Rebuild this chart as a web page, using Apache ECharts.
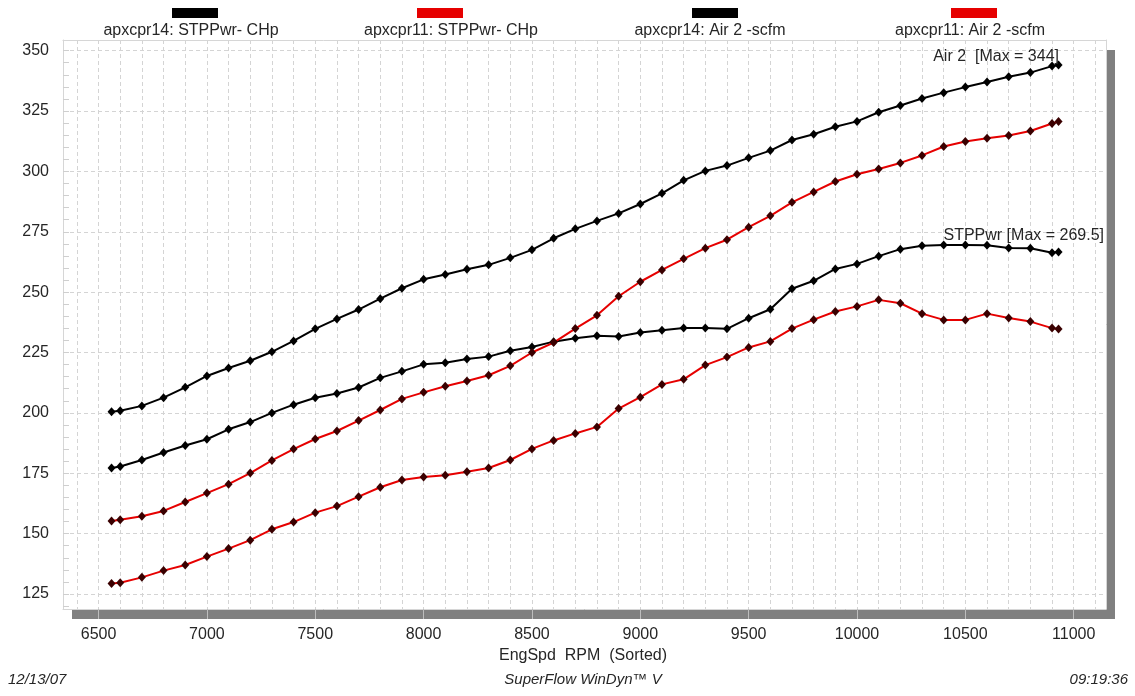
<!DOCTYPE html>
<html>
<head>
<meta charset="utf-8">
<script src="https://cdn.jsdelivr.net/npm/echarts@6/dist/echarts.min.js"></script>
<style>
html,body{margin:0;padding:0;background:#fff;}
#chart{width:1135px;height:696px;}
</style>
</head>
<body>
<div id="chart"></div>
<script>
// ---- data ----
const rpm = [6560, 6600, 6700, 6800, 6900, 7000, 7100, 7200, 7300, 7400, 7500, 7600, 7700, 7800, 7900, 8000, 8100, 8200, 8300, 8400, 8500, 8600, 8700, 8800, 8900, 9000, 9100, 9200, 9300, 9400, 9500, 9600, 9700, 9800, 9900, 10000, 10100, 10200, 10300, 10400, 10500, 10600, 10700, 10800, 10900, 10930];
const stpPwr14 = [177.2, 177.8, 180.5, 183.6, 186.5, 189.1, 193.2, 196.2, 200.0, 203.4, 206.3, 208.0, 210.5, 214.5, 217.2, 220.1, 220.8, 222.3, 223.3, 225.7, 227.3, 229.5, 230.9, 231.9, 231.6, 233.3, 234.2, 235.2, 235.2, 234.8, 239.2, 242.9, 251.4, 254.7, 259.6, 261.7, 264.9, 267.8, 269.2, 269.5, 269.5, 269.4, 268.3, 268.2, 266.3, 266.6];
const stpPwr11 = [129.4, 129.7, 131.9, 134.7, 137.0, 140.5, 143.8, 147.3, 151.8, 154.8, 158.7, 161.4, 165.3, 169.2, 172.2, 173.5, 174.2, 175.6, 177.2, 180.5, 185.1, 188.6, 191.5, 194.2, 201.8, 206.5, 211.8, 213.9, 219.8, 223.1, 227.1, 229.6, 234.9, 238.6, 242.0, 244.1, 246.8, 245.4, 241.1, 238.5, 238.5, 241.1, 239.3, 237.8, 235.1, 234.7];
const air14 = [200.5, 200.9, 202.9, 206.3, 210.6, 215.3, 218.6, 221.6, 225.3, 229.8, 234.8, 238.9, 242.8, 247.3, 251.6, 255.3, 257.3, 259.5, 261.3, 264.2, 267.5, 272.3, 276.2, 279.5, 282.6, 286.5, 290.9, 296.3, 300.2, 302.4, 305.6, 308.6, 313.0, 315.4, 318.5, 320.7, 324.5, 327.3, 330.2, 332.6, 334.9, 337.0, 339.2, 340.9, 343.6, 344.0];
const air11 = [155.2, 155.8, 157.2, 159.4, 163.1, 166.8, 170.5, 175.1, 180.3, 185.0, 189.2, 192.5, 196.8, 201.2, 205.8, 208.5, 211.0, 213.2, 215.6, 219.5, 225.0, 229.1, 234.9, 240.4, 248.3, 254.3, 259.2, 263.8, 268.2, 271.7, 276.9, 281.6, 287.2, 291.5, 295.8, 298.8, 301.0, 303.5, 306.6, 310.3, 312.4, 313.7, 314.9, 316.7, 319.8, 320.7];

const seriesNames = ['apxcpr14: STPPwr- CHp', 'apxcpr11: STPPwr- CHp', 'apxcpr14: Air 2 -scfm', 'apxcpr11: Air 2 -scfm'];
const xTickLabels = [6500, 7000, 7500, 8000, 8500, 9000, 9500, 10000, 10500, 11000];
const xGridValues = [6400, 6500, 6600, 6700, 6800, 6900, 7000, 7100, 7200, 7300, 7400, 7500, 7600, 7700, 7800, 7900, 8000, 8100, 8200, 8300, 8400, 8500, 8600, 8700, 8800, 8900, 9000, 9100, 9200, 9300, 9400, 9500, 9600, 9700, 9800, 9900, 10000, 10100, 10200, 10300, 10400, 10500, 10600, 10700, 10800, 10900, 11000, 11100];
const yTickLabels = [125, 150, 175, 200, 225, 250, 275, 300, 325, 350];
const yMinorValues = [120, 125, 130, 135, 140, 145, 150, 155, 160, 165, 170, 175, 180, 185, 190, 195, 200, 205, 210, 215, 220, 225, 230, 235, 240, 245, 250, 255, 260, 265, 270, 275, 280, 285, 290, 295, 300, 305, 310, 315, 320, 325, 330, 335, 340, 345, 350];
const xTitle = 'EngSpd  RPM  (Sorted)';
const footerLeft = '12/13/07';
const footerCenter = 'SuperFlow WinDyn\u2122 V';
const footerRight = '09:19:36';

// ---- styling ----
const RED = '#e60000';
const BLACK = '#000000';
const FONT = "'Liberation Sans', Arial, sans-serif";
const TXT = '#262626';
const GRIDC = '#d4d4d4';
const BORDER = '#d6d6d6';
const colors = [BLACK, RED, BLACK, RED];
const markerColors = ['#000000', '#3a0000', '#000000', '#3a0000'];
const seriesData = [stpPwr14, stpPwr11, air14, air11];

const XMIN = 6336, XMAX = 11149, YMIN = 118.8, YMAX = 354.4;

const chart = echarts.init(document.getElementById('chart'), null, {renderer: 'canvas'});

const series = seriesData.map((vals, i) => ({
  name: seriesNames[i],
  type: 'line',
  xAxisIndex: 0,
  yAxisIndex: 0,
  data: rpm.map((r, k) => [r, vals[k]]),
  symbol: 'diamond',
  symbolSize: [8, 9],
  showSymbol: true,
  lineStyle: {color: colors[i], width: 2},
  itemStyle: {color: markerColors[i]},
  z: 3,
  animation: false
}));

const legendX = [172, 417, 692, 951];
const legendTextX = [191, 451, 710, 970];
const graphic = [];
function txt(text, x, y, font, align) {
  return {type: 'text', silent: true, z: 10, style: {text: text, x: x, y: y, font: font, fill: TXT, align: align, verticalAlign: 'middle', textAlign: align, textVerticalAlign: 'middle'}};
}
seriesNames.forEach((n, i) => {
  graphic.push({type: 'rect', shape: {x: legendX[i], y: 8, width: 46, height: 10}, style: {fill: colors[i]}, silent: true});
  graphic.push(txt(n, legendTextX[i], 31, '16px ' + FONT, 'center'));
});
const airMax = Math.max(...air14);
const stpMax = Math.max(...stpPwr14);
graphic.push(txt('Air 2  [Max = ' + airMax + ']', 1059, 57, '16px ' + FONT, 'right'));
graphic.push(txt('STPPwr [Max = ' + stpMax + ']', 1104, 236, '16px ' + FONT, 'right'));
graphic.push(txt(xTitle, 583, 656, '16px ' + FONT, 'center'));
graphic.push(txt(footerLeft, 8, 680, 'italic 15px ' + FONT, 'left'));
graphic.push(txt(footerCenter, 583, 680, 'italic 15px ' + FONT, 'center'));
graphic.push(txt(footerRight, 1128, 680, 'italic 15px ' + FONT, 'right'));

const plain = v => String(v);

const option = {
  animation: false,
  backgroundColor: '#ffffff',
  grid: {
    left: 63, top: 40, right: 29, bottom: 87,
    show: true,
    backgroundColor: '#ffffff',
    borderWidth: 0,
    shadowColor: '#808080',
    shadowBlur: 0,
    shadowOffsetX: 9,
    shadowOffsetY: 10
  },
  xAxis: [
    {
      type: 'value', min: XMIN, max: XMAX, position: 'bottom',
      axisLine: {show: true, lineStyle: {color: BORDER, width: 1}},
      axisTick: {show: true, customValues: xTickLabels, length: 10, inside: false, lineStyle: {color: '#bdbdbd', width: 1}},
      axisLabel: {show: true, customValues: xTickLabels, formatter: plain, margin: 18, fontSize: 16, fontFamily: FONT, color: TXT},
      splitLine: {show: false}
    },
    {
      type: 'value', min: XMIN, max: XMAX, position: 'top',
      axisLine: {show: true, lineStyle: {color: BORDER, width: 1}},
      axisTick: {show: false, customValues: xGridValues},
      axisLabel: {show: false},
      splitLine: {show: true, lineStyle: {color: GRIDC, type: [4, 3], width: 1}}
    }
  ],
  yAxis: [
    {
      type: 'value', min: YMIN, max: YMAX, position: 'left',
      axisLine: {show: true, lineStyle: {color: BORDER, width: 1}},
      axisTick: {show: false, customValues: yTickLabels},
      axisLabel: {show: true, customValues: yTickLabels, formatter: plain, margin: 14, fontSize: 16, fontFamily: FONT, color: TXT},
      splitLine: {show: true, lineStyle: {color: GRIDC, type: [4, 3], width: 1}}
    },
    {
      type: 'value', min: YMIN, max: YMAX, position: 'left',
      axisLine: {show: false},
      axisTick: {show: true, customValues: yMinorValues, inside: true, length: 6, lineStyle: {color: '#cfcfcf', width: 1}},
      axisLabel: {show: false},
      splitLine: {show: false}
    },
    {
      type: 'value', min: YMIN, max: YMAX, position: 'right',
      axisLine: {show: true, lineStyle: {color: BORDER, width: 1}},
      axisTick: {show: false},
      axisLabel: {show: false},
      splitLine: {show: false}
    }
  ],
  series: series,
  graphic: graphic
};
chart.setOption(option);
</script>
</body>
</html>
